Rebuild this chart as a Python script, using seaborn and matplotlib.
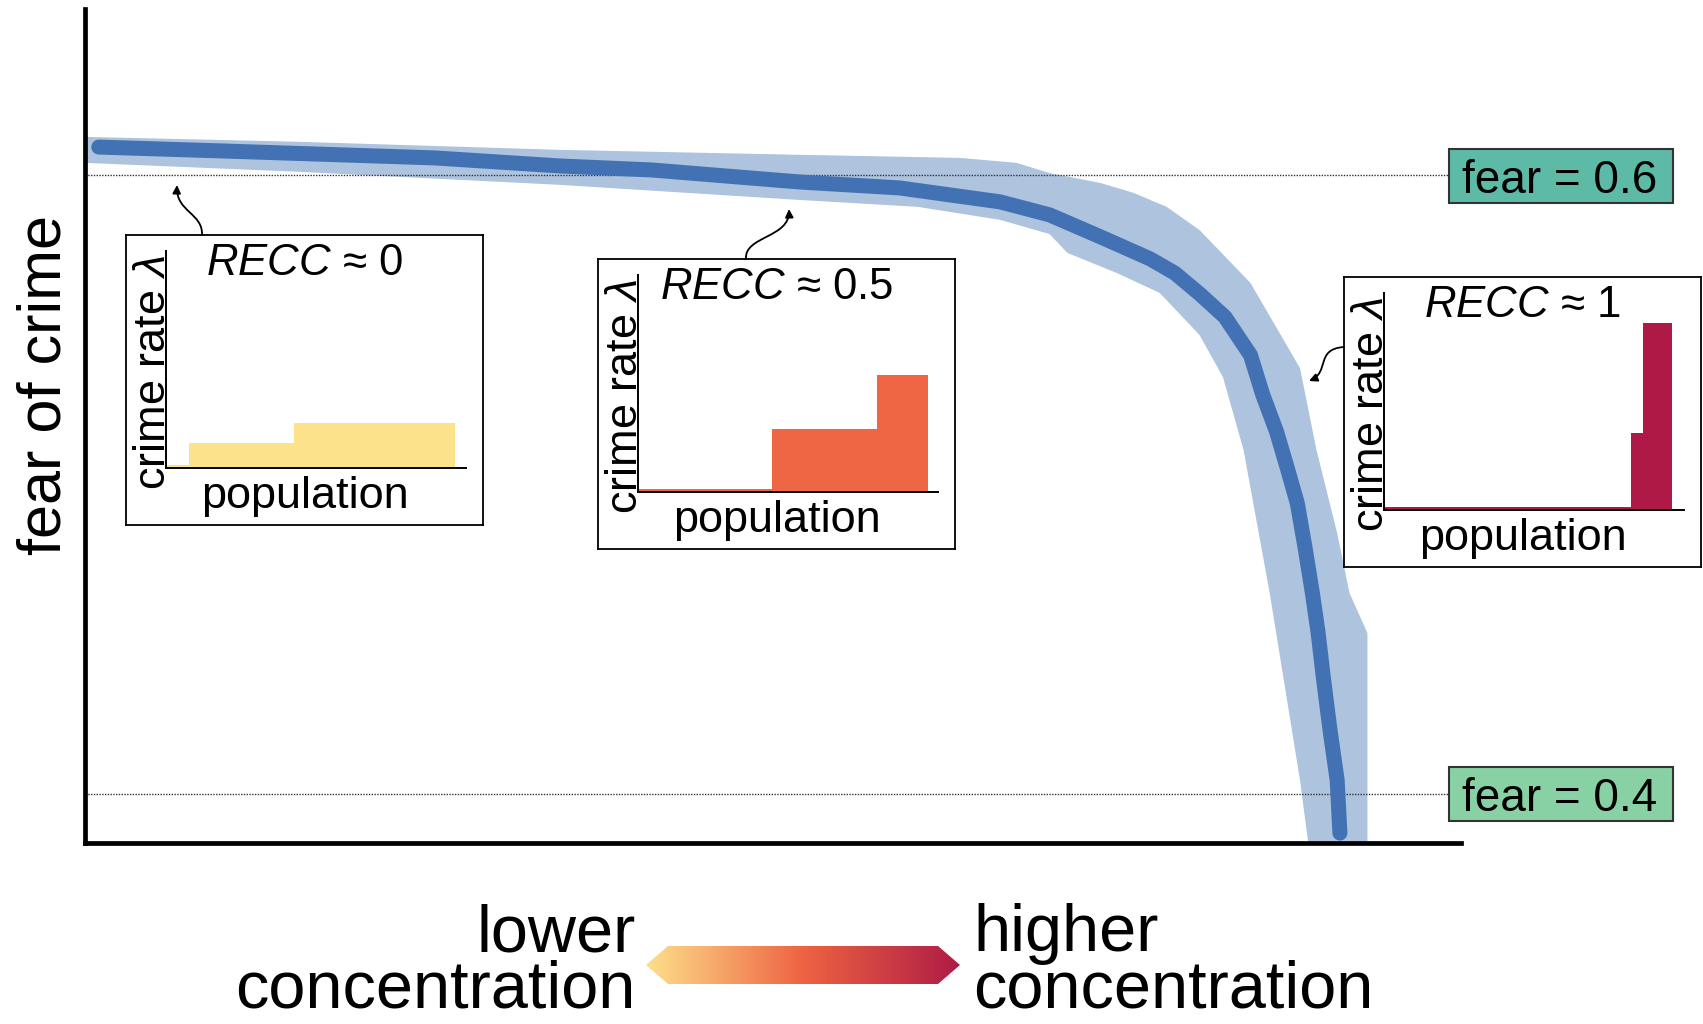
import numpy as np
import matplotlib
matplotlib.use('Agg')
import matplotlib.pyplot as plt
import seaborn as sns
from matplotlib.patches import Rectangle, Polygon, FancyArrowPatch
from matplotlib.path import Path
from matplotlib.colors import LinearSegmentedColormap

# main curve: concentration (RECC, along x) vs fear of crime
recc = [0.010, 0.096, 0.254, 0.345, 0.412, 0.520, 0.592, 0.665, 0.701, 0.738,
        0.774, 0.792, 0.810, 0.8285, 0.847, 0.856, 0.866, 0.8735, 0.881, 0.8866,
        0.892, 0.8961, 0.900, 0.9048, 0.910, 0.912]
fear = [0.6090, 0.6078, 0.6055, 0.6029, 0.6016, 0.5977, 0.5958, 0.5913, 0.5871, 0.5800,
        0.5729, 0.5683, 0.5616, 0.5541, 0.5418, 0.5289, 0.5170, 0.5057, 0.4940, 0.4798,
        0.4649, 0.4523, 0.4375, 0.4207, 0.4045, 0.3874]

# uncertainty band edges
band_hi_x = [0.0, 0.156, 0.345, 0.520, 0.636, 0.677, 0.701, 0.738, 0.762, 0.786,
             0.810, 0.847, 0.883, 0.895, 0.910, 0.919, 0.932, 0.932]
band_hi_y = [0.6123, 0.6107, 0.6081, 0.6065, 0.6055, 0.6039, 0.6006, 0.5974, 0.5942, 0.5897,
             0.5822, 0.5651, 0.5376, 0.5111, 0.4843, 0.4649, 0.4520, 0.3842]
band_lo_x = [0.0, 0.156, 0.345, 0.520, 0.605, 0.665, 0.701, 0.714, 0.750, 0.781,
             0.810, 0.827, 0.842, 0.861, 0.883, 0.889]
band_lo_y = [0.6039, 0.6010, 0.5968, 0.5919, 0.5897, 0.5855, 0.5809, 0.5748, 0.5683, 0.5619,
             0.5483, 0.5347, 0.5111, 0.4649, 0.4045, 0.3842]

fear_levels = [0.6, 0.4]
fear_labels = ['fear = 0.6', 'fear = 0.4']
fear_colors = ['#5dbaa6', '#88d1a4']

# insets: population share (bar widths) and crime rate (bar heights)
inset_titles = [r'$\mathit{RECC}$ ≈ 0', r'$\mathit{RECC}$ ≈ 0.5', r'$\mathit{RECC}$ ≈ 1']
inset_widths = [[0.075, 0.352, 0.535], [0.448, 0.348, 0.171], [0.823, 0.040, 0.097]]
inset_heights = [[0.014, 0.115, 0.207], [0.014, 0.290, 0.540], [0.012, 0.355, 0.862]]
inset_colors = ['#fde28c', '#ef6645', '#ae1a45']

sns.set_theme(style='white')
plt.rcParams['font.family'] = ['Liberation Sans', 'DejaVu Sans']
plt.rcParams['text.color'] = 'black'
plt.rcParams['mathtext.fontset'] = 'custom'
plt.rcParams['mathtext.it'] = 'Liberation Sans:italic'
plt.rcParams['mathtext.rm'] = 'Liberation Sans'

W, H = 1703, 1024
fig = plt.figure(figsize=(W / 100, H / 100), dpi=100, facecolor='white')


def fx(px):
    return px / W


def fy(py):
    return 1 - py / H


# main axes
ax = fig.add_axes([fx(85), fy(843), fx(1376), 834 / H])
ax.set_xlim(0, 1)
ax.set_ylim(0.3842, 0.6536)
ax.set_xticks([])
ax.set_yticks([])
for s in ['top', 'right']:
    ax.spines[s].set_visible(False)
for s in ['left', 'bottom']:
    ax.spines[s].set_color('black')
    ax.spines[s].set_linewidth(3.4)

ax.fill(band_hi_x + band_lo_x[::-1], band_hi_y + band_lo_y[::-1],
        color='#adc3de', lw=0, zorder=1)
for lv in fear_levels:
    ax.axhline(lv, xmax=0.991, color='#333333', lw=1, ls=(0, (1, 1)), zorder=2)
sns.lineplot(x=recc, y=fear, ax=ax, color='#4272b3', lw=10.8, zorder=3)
ax.lines[-1].set_solid_capstyle('round')
ax.lines[-1].set_solid_joinstyle('round')
ax.set(xlabel='', ylabel='')

fig.text(fx(61), fy(385), 'fear of crime', rotation=90, rotation_mode='anchor',
         ha='center', va='baseline', fontsize=44)

# fear level labels
for lv, lab, col, top in zip(fear_levels, fear_labels, fear_colors, [149, 767]):
    fig.add_artist(Rectangle((fx(1449), fy(top + 54)), fx(224), 54 / H,
                             transform=fig.transFigure, facecolor=col,
                             edgecolor='#333333', lw=1.5))
    fig.text(fx(1560), fy(top + 44), lab, ha='center', va='baseline', fontsize=33)

# insets
inset_boxes = [(126, 235), (598, 259), (1344, 277)]
for (bx, by), title, wds, hts, col in zip(inset_boxes, inset_titles, inset_widths,
                                          inset_heights, inset_colors):
    frame = fig.add_axes([fx(bx), fy(by + 290), fx(357), 290 / H])
    frame.set_xticks([])
    frame.set_yticks([])
    frame.set_facecolor('white')
    for s in frame.spines.values():
        s.set_visible(True)
        s.set_color('black')
        s.set_linewidth(1.3)
    frame.text(0.5, 1 - 40 / 290, title, ha='center', va='baseline',
               fontsize=31.5, transform=frame.transAxes)
    frame.text(0.5, 1 - 273 / 290, 'population', ha='center', va='baseline',
               fontsize=32.5, transform=frame.transAxes)
    frame.text(39 / 357, 1 - 138 / 290, r'crime rate $\lambda$', rotation=90,
               rotation_mode='anchor', ha='center', va='baseline', fontsize=32.5,
               transform=frame.transAxes)

    inner = fig.add_axes([fx(bx + 40), fy(by + 233), fx(300), 217 / H])
    wds = np.array(wds)
    edges = np.concatenate([[0], np.cumsum(wds)])
    inner.bar(edges[:-1], hts, width=wds, align='edge', color=col, lw=0)
    inner.set_xlim(0, 1)
    inner.set_ylim(0, 1)
    inner.set(xlabel='', ylabel='', xticks=[], yticks=[])
    inner.patch.set_alpha(0)
    for s in ['top', 'right']:
        inner.spines[s].set_visible(False)
    for s in ['left', 'bottom']:
        inner.spines[s].set_color('black')
        inner.spines[s].set_linewidth(1.4)

# curly pointers from insets to the curve
pointers = [
    [(202, 235), (203, 213), (176, 212), (177, 185)],
    [(746, 259), (744, 236), (790, 238), (789, 209)],
    [(1344, 347), (1315, 349), (1330, 372), (1309, 381)],
]
for pts in pointers:
    verts = [(fx(px), fy(py)) for px, py in pts]
    path = Path(verts, [Path.MOVETO, Path.CURVE4, Path.CURVE4, Path.CURVE4])
    fig.add_artist(FancyArrowPatch(path=path, arrowstyle='-|>', mutation_scale=12,
                                   lw=1.3, color='black', transform=fig.transFigure))

# concentration gradient arrow
cmap = LinearSegmentedColormap.from_list('conc', ['#fde08b', '#ee6342', '#ae1c45'])
gax = fig.add_axes([fx(646), fy(984), fx(314), 38 / H])
gax.axis('off')
gax.set_xlim(0, 1)
gax.set_ylim(0, 1)
im = gax.imshow(np.linspace(0, 1, 256).reshape(1, -1), cmap=cmap, aspect='auto',
                extent=[0, 1, 0, 1])
hexagon = Polygon([(0, 0.5), (0.07, 1), (0.93, 1), (1, 0.5), (0.93, 0), (0.07, 0)],
                  transform=gax.transData, facecolor='none', edgecolor='none')
gax.add_patch(hexagon)
im.set_clip_path(hexagon)

fig.text(fx(636), fy(951), 'lower', ha='right', va='baseline', fontsize=48)
fig.text(fx(636), fy(1008), 'concentration', ha='right', va='baseline', fontsize=48)
fig.text(fx(973), fy(951), 'higher', ha='left', va='baseline', fontsize=48)
fig.text(fx(973), fy(1008), 'concentration', ha='left', va='baseline', fontsize=48)

fig.savefig('out.png', dpi=100)
